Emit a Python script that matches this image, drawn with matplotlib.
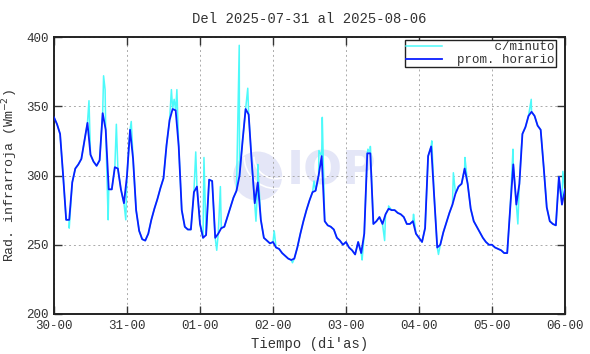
import numpy as np
import matplotlib
matplotlib.use('Agg')
import matplotlib.pyplot as plt
from matplotlib.patches import Ellipse, Arc

plt.rcParams['font.family'] = ['Liberation Mono', 'DejaVu Sans Mono']

# hourly means (W m^-2), one list per day starting 07-30 00:00
d30 = [342, 337, 330, 300, 268, 268, 295, 305, 308, 312, 325, 338,
       315, 310, 307, 311, 345, 333, 290, 290, 306, 305, 290, 280]
d31 = [300, 333, 312, 275, 260, 254, 253, 258, 268, 276, 283, 291,
       298, 322, 340, 348, 347, 321, 275, 263, 261, 261, 288, 292]
d01 = [265, 255, 257, 297, 296, 255, 258, 262, 263, 270, 277, 284,
       289, 300, 325, 348, 344, 310, 280, 295, 268, 255, 253, 251]
d02 = [252, 248, 247, 244, 242, 240, 239, 240, 248, 258, 267, 275,
       282, 288, 289, 300, 314, 267, 264, 263, 261, 255, 253, 250]
d03 = [252, 248, 246, 243, 252, 244, 258, 316, 316, 265, 267, 270,
       265, 272, 276, 275, 275, 273, 272, 270, 265, 265, 267, 258]
d04 = [255, 252, 262, 314, 321, 285, 248, 250, 259, 266, 273, 279,
       287, 292, 294, 305, 294, 276, 267, 263, 259, 255, 252, 250]
d05 = [250, 248, 247, 246, 244, 244, 277, 308, 279, 294, 330, 335,
       343, 346, 343, 336, 333, 306, 277, 267, 265, 264, 299, 279]
last_val = 290

# extra excursions of the 1-minute record (hours from start, value)
spike_h = [5.0, 11.5, 16.3, 16.8, 17.8, 20.5, 23.6, 25.4, 38.6, 39.5, 40.4,
           46.6, 49.3, 53.5, 54.7, 60.9, 63.7, 66.4, 67.0, 72.4, 78.4, 85.5,
           87.1, 88.2, 101.3, 103.2, 104.0, 108.7, 110.0, 118.2, 124.2, 126.4,
           131.3, 135.1, 150.9, 152.5, 153.6, 156.9, 167.3]
spike_v = [262, 354, 372, 362, 268, 337, 268, 339, 362, 355, 362,
           317, 313, 246, 292, 394, 363, 267, 308, 260, 237, 296,
           318, 342, 239, 319, 321, 253, 278, 272, 325, 243,
           302, 313, 319, 265, 318, 355, 303]

xlabels = ['30-00', '31-00', '01-00', '02-00', '03-00', '04-00', '05-00', '06-00']

hourly = np.array(d30 + d31 + d01 + d02 + d03 + d04 + d05 + [last_val], dtype=float)
t_hour = np.arange(len(hourly)) / 24.0

t_min = np.concatenate([t_hour, np.array(spike_h) / 24.0])
v_min = np.concatenate([hourly, np.array(spike_v, dtype=float)])
order = np.argsort(t_min, kind='stable')
t_min, v_min = t_min[order], v_min[order]

fig = plt.figure(figsize=(5.9, 3.54), dpi=100)
ax = fig.add_axes([54/590, 1-314/354, (565-54)/590, (314-37)/354])

# watermark
ax.add_patch(Ellipse((2.79, 299.6), 0.67, 35.4, color='#e4e6f7', zorder=0, lw=0))
for w in (0.9, 1.3):
    ax.add_patch(Arc((2.79 + 0.25, 299.6 + 14), w * 0.67, w * 35.4, theta1=180, theta2=300,
                     color='white', lw=1.2, zorder=0))
ax.text(3.19, 302.5, 'IOP', family='DejaVu Sans', weight='bold', fontsize=33,
        color='#e4e6f7', va='center', ha='left', zorder=0)

l1, = ax.plot(t_min, v_min, color='#4dfafa', lw=1.1, label='     c/minuto', zorder=2)
l2, = ax.plot(t_hour, hourly, color='#0a1eff', lw=1.3, label='prom. horario', zorder=3)

ax.set_xlim(0, 7)
ax.set_ylim(200, 400)
ax.set_xticks(np.arange(8))
ax.set_xticklabels(xlabels)
ax.set_yticks([200, 250, 300, 350, 400])
ax.tick_params(direction='in', length=6, width=1, top=True, right=True,
               labelsize=9, colors='#333333', pad=4)
ax.grid(True, color='#aaaaaa', ls=(0, (2, 3)), lw=0.7)
for s in ax.spines.values():
    s.set_linewidth(1.4)
    s.set_color('#222222')

ax.set_xlabel("Tiempo (di'as)", fontsize=10, color='#333333')
ax.set_ylabel('Rad. infrarroja (Wm$^{-2}$)', fontsize=9.5, color='#333333')
ax.set_title('Del 2025-07-31 al 2025-08-06', fontsize=10, color='#333333', pad=10)

leg = ax.legend(loc='upper right', bbox_to_anchor=(0.982, 0.989), fancybox=False,
                framealpha=1, edgecolor='#222222', fontsize=9, borderaxespad=0,
                borderpad=0.1, handlelength=2.9, labelspacing=0.05, handletextpad=1.2)
leg.get_frame().set_linewidth(1.0)
for txt in leg.get_texts():
    txt.set_color('#333333')

fig.savefig('out.png', dpi=100)
